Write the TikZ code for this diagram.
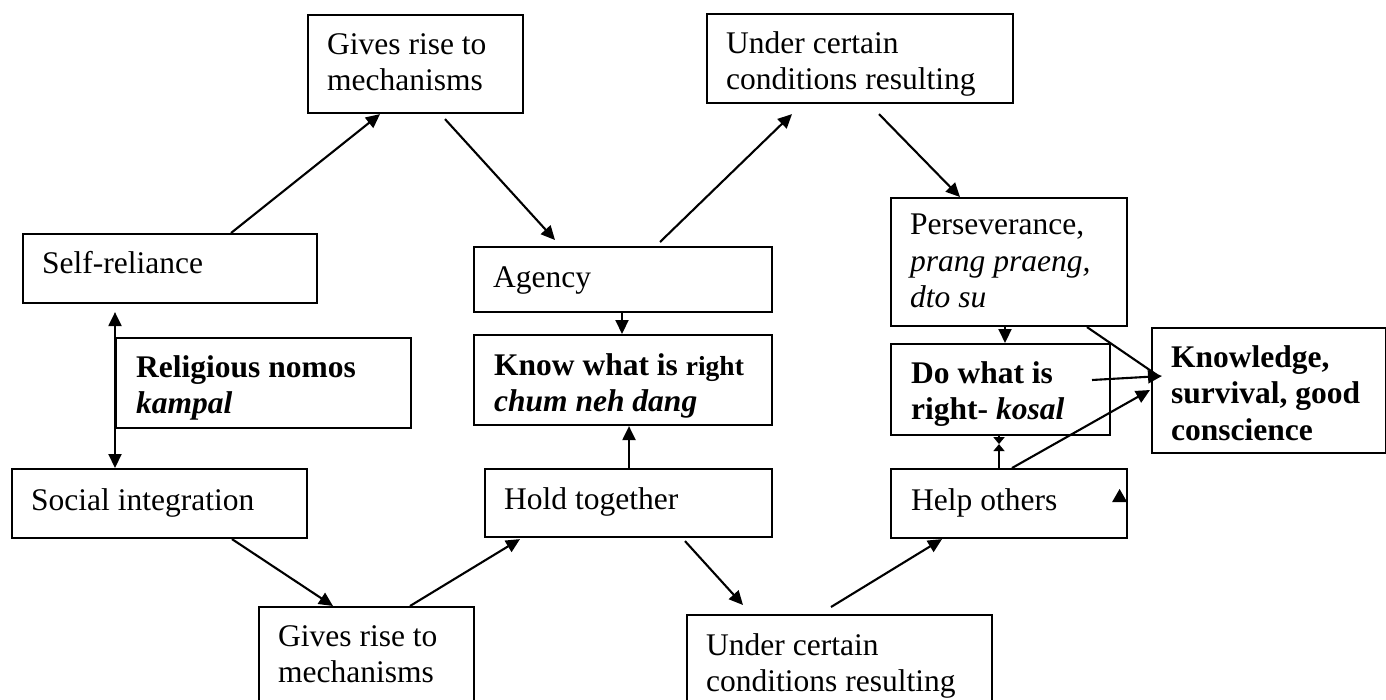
\documentclass[tikz,border=0pt]{standalone}
\usepackage{fontspec}
\setmainfont{Liberation Serif}
\usetikzlibrary{arrows.meta,calc}
\tikzstyle{box} = [draw, line width=2.1pt, rectangle, inner sep=0pt, anchor=north west]
\tikzstyle{txt} = [inner sep=0pt, anchor=north west, align=left, font=\fontsize{31.5}{36.5}\selectfont]
\tikzstyle{arrow} = [-{Triangle[length=14pt,width=13pt]}, line width=2.1pt]
\tikzstyle{tiny} = [-{Triangle[length=7pt,width=11pt]}, line width=2.1pt]
\begin{document}
\begin{tikzpicture}[x=1pt,y=-1pt]
    \useasboundingbox (0,0) rectangle (1386,699);
    % boxes
    \node[box, minimum width=215pt, minimum height=98pt] (gtop) at (307,14) {};
    \node[box, minimum width=306pt, minimum height=89pt] (utop) at (706,13) {};
    \node[box, minimum width=294pt, minimum height=69pt] (self) at (22,233) {};
    \node[box, minimum width=298pt, minimum height=65pt] (agency) at (473,246) {};
    \node[box, minimum width=236pt, minimum height=128pt] (pers) at (890,197) {};
    \node[box, minimum width=295pt, minimum height=90pt] (relig) at (115,337) {};
    \node[box, minimum width=298pt, minimum height=90pt] (know) at (473,334) {};
    \node[box, minimum width=219pt, minimum height=91pt] (doright) at (890,343) {};
    \node[box, minimum width=234pt, minimum height=125pt] (knowl) at (1151,327) {};
    \node[box, minimum width=295pt, minimum height=69pt] (social) at (11,468) {};
    \node[box, minimum width=287pt, minimum height=68pt] (hold) at (484,468) {};
    \node[box, minimum width=236pt, minimum height=69pt] (help) at (890,468) {};
    \node[box, minimum width=215pt, minimum height=98pt] (gbot) at (258,606) {};
    \node[box, minimum width=305pt, minimum height=89pt] (ubot) at (686,614) {};
    % texts
    \node[txt] (gtoptext) at ($(gtop.north west)+(20,14.5)$) {\strut Gives rise to\\mechanisms};
    \node[txt] (utoptext) at ($(utop.north west)+(20,14.5)$) {\strut Under certain\\conditions resulting};
    \node[txt] (selftext) at ($(self.north west)+(20,14.5)$) {\strut Self-reliance};
    \node[txt] (agencytext) at ($(agency.north west)+(20,15.5)$) {\strut Agency};
    \node[txt] (perstext) at ($(pers.north west)+(20,12)$) {\strut Perseverance,\\\textit{prang praeng,}\\\textit{dto su}};
    \node[txt] (religtext) at ($(relig.north west)+(21,14.5)$) {\strut\textbf{Religious nomos}\\\textbf{\textit{kampal}}};
    \node[txt] (knowtext) at ($(know.north west)+(21,15.5)$) {\strut\textbf{Know what is} {\bfseries\fontsize{27.5}{36.5}\selectfont right}\\\textbf{\textit{chum neh dang}}};
    \node[txt] (dorighttext) at ($(doright.north west)+(21,14.5)$) {\strut\textbf{Do what is}\\\textbf{right- \textit{kosal}}};
    \node[txt] (knowltext) at ($(knowl.north west)+(20,14.5)$) {\strut\textbf{Knowledge,}\\\textbf{survival, good}\\\textbf{conscience}};
    \node[txt] (socialtext) at ($(social.north west)+(20,16.5)$) {\strut Social integration};
    \node[txt] (holdtext) at ($(hold.north west)+(20,15.5)$) {\strut Hold together};
    \node[txt] (helptext) at ($(help.north west)+(21,16.5)$) {\strut Help others};
    \node[txt] (gbottext) at ($(gbot.north west)+(20,14.5)$) {\strut Gives rise to\\mechanisms};
    \node[txt] (ubottext) at ($(ubot.north west)+(20,15.5)$) {\strut Under certain\\conditions resulting};
    % upper loop
    \draw[arrow] ($(self.north west)+(209,0)$) -- ($(gtop.south west)+(73,0)$);
    \draw[arrow] ($(gtop.south west)+(138,5)$) -- ($(agency.north west)+(82,-6)$);
    \draw[arrow] ($(agency.north west)+(187,-4)$) -- ($(utop.south west)+(86,10)$);
    \draw[arrow] ($(utop.south west)+(173,10)$) -- ($(pers.north west)+(70,0)$);
    % lower loop
    \draw[arrow] ($(social.south west)+(221,0)$) -- ($(gbot.north west)+(75,0)$);
    \draw[arrow] ($(gbot.north west)+(152,0)$) -- ($(hold.south west)+(36,1)$);
    \draw[arrow] ($(hold.south west)+(201,3)$) -- ($(ubot.north west)+(57,-9)$);
    \draw[arrow] ($(ubot.north west)+(145,-7)$) -- ($(help.south west)+(52,0)$);
    % middle links
    \draw[arrow] ($(agency.south west)+(149,0)$) -- ($(know.north west)+(149,0)$);
    \draw[arrow] ($(hold.north west)+(145,0)$) -- ($(know.south west)+(156,0)$);
    \draw[line width=2.1pt, {Triangle[length=14pt,width=13pt]}-{Triangle[length=14pt,width=13pt]}] ($(self.south west)+(93,8)$) -- ($(social.north west)+(104,0)$);
    \draw[arrow] ($(pers.south west)+(115,0)$) -- ($(doright.north west)+(115,0)$);
    \draw[tiny] ($(help.north west)+(109,0)$) -- ($(doright.south west)+(109,8)$);
    \draw[tiny] ($(doright.south west)+(109,0)$) -- ($(doright.south west)+(109,8)$);
    % into knowledge
    \draw[line width=2.1pt] ($(pers.south west)+(197,0)$) -- ($(knowl.north west)+(6,48)$);
    \draw[arrow] ($(doright.north west)+(202,37)$) -- ($(knowl.north west)+(11,49)$);
    \draw[arrow] ($(help.north west)+(122,0)$) -- ($(knowl.north west)+(-1,63)$);
    \fill ($(help.north east)+(-16,34)$) -- ($(help.north east)+(-8.5,21)$) -- ($(help.north east)+(-1,34)$) -- cycle;
\end{tikzpicture}
\end{document}
